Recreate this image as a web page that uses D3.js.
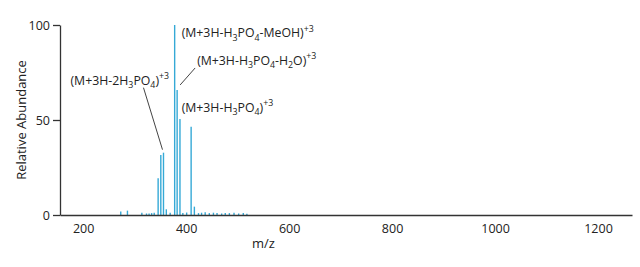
<!DOCTYPE html>
<html>
<head>
<meta charset="utf-8">
<script src="https://cdn.jsdelivr.net/npm/d3@7"></script>
<style>
  html, body { margin: 0; padding: 0; background: #fff; }
  text { font-family: "Open Sans", "Noto Sans", sans-serif; fill: #222; }
</style>
</head>
<body>
<div id="chart"></div>
<script>
// peak list
const mzValues = [273, 286, 314, 323, 328, 333, 338, 345.6, 350.8, 356, 361.5, 369,
  377.7, 382.5, 388, 393.6, 401, 409.7, 416, 424, 430, 437, 445, 453, 460, 469,
  476, 484, 493, 502, 511, 518];
const abundance = [1.8, 2.3, 1.2, 0.8, 0.8, 1, 1.2, 19.3, 31.6, 32.8, 3, 1.2,
  100, 65.8, 50.5, 1, 1.3, 46.5, 4.4, 1, 1.2, 1.5, 1, 1.2, 1, 0.8, 1, 1, 1.2, 0.8, 1, 0.6];
const xTicks = [200, 400, 600, 800, 1000, 1200];
const yTicks = [0, 50, 100];
const labelPeaks = [377.7, 382.5, 409.7, 356];
const labelTexts = ["(M+3H-H3PO4-MeOH)+3", "(M+3H-H3PO4-H2O)+3", "(M+3H-H3PO4)+3", "(M+3H-2H3PO4)+3"];

const fullWidth = 640, fullHeight = 267;
const margin = { top: 25, right: 8, bottom: 52, left: 60 };
const width = fullWidth - margin.left - margin.right;
const height = fullHeight - margin.top - margin.bottom;

const svg = d3.select('#chart')
  .append('svg')
  .attr('width', fullWidth)
  .attr('height', fullHeight);

const g = svg.append('g')
  .attr('transform', `translate(${margin.left},${margin.top})`);

const x = d3.scaleLinear().domain([155, 1266]).range([0, width]);
const y = d3.scaleLinear().domain([0, 100]).range([height, 0]);

// peaks
g.selectAll('line.peak')
  .data(mzValues)
  .join('line')
  .attr('class', 'peak')
  .attr('x1', d => x(d)).attr('x2', d => x(d))
  .attr('y1', y(0))
  .attr('y2', (d, i) => y(abundance[i]))
  .attr('stroke', '#35a9d6')
  .attr('stroke-width', 1.4);

// axes
const xAxis = d3.axisBottom(x).tickValues(xTicks).tickFormat(d3.format('d'))
  .tickSize(0).tickPadding(9);
const gx = g.append('g')
  .attr('transform', `translate(0,${height})`)
  .call(xAxis);
gx.select('.domain').attr('stroke', '#333').attr('stroke-width', 1.3);
gx.selectAll('text').style('font-size', '12.5px').attr('fill', '#222');

const yAxis = d3.axisLeft(y).tickValues(yTicks).tickSize(7).tickSizeOuter(0).tickPadding(3);
const gy = g.append('g').call(yAxis);
gy.select('.domain').attr('stroke', '#333').attr('stroke-width', 1.3);
gy.selectAll('.tick line').attr('stroke', '#333').attr('stroke-width', 1.3);
gy.selectAll('text').style('font-size', '12.5px').attr('fill', '#222');

// axis titles
svg.append('text')
  .attr('x', x(550) + margin.left)
  .attr('y', 248)
  .attr('text-anchor', 'middle')
  .style('font-size', '13px')
  .text('m/z');

svg.append('text')
  .attr('transform', `translate(26,${margin.top + height / 2}) rotate(-90)`)
  .attr('text-anchor', 'middle')
  .style('font-size', '13px')
  .text('Relative Abundance');

// annotation text with chemical sub/superscripts
function addLabel(str, px, py) {
  const t = g.append('text').attr('x', px).attr('y', py).style('font-size', '12.3px');
  const cut = str.lastIndexOf(')') + 1;
  const body = str.slice(0, cut), sup = str.slice(cut);
  const parts = [];
  for (let i = 0; i < body.length; i++) {
    const c = body[i];
    const kind = (/\d/.test(c) && i > 0 && /[A-Za-z]/.test(body[i - 1])) ? 'sub' : 'base';
    const last = parts[parts.length - 1];
    if (last && last.kind === kind) last.text += c;
    else parts.push({ kind, text: c });
  }
  parts.push({ kind: 'sup', text: sup });
  const shift = { base: 0, sub: 3.5, sup: -5.5 };
  let cur = 0;
  parts.forEach(p => {
    const s = t.append('tspan').attr('dy', shift[p.kind] - cur).text(p.text);
    if (p.kind !== 'base') s.style('font-size', '8.8px');
    cur = shift[p.kind];
  });
}

const peakTop = mz => {
  const i = mzValues.indexOf(mz);
  return [x(mz), y(abundance[i])];
};

// label placement relative to the peak tops
const offsets = [[7, 12], [20, -25], [-9.5, -15], [-93, -68]];
labelPeaks.forEach((mz, i) => {
  const [px, py] = peakTop(mz);
  addLabel(labelTexts[i], px + offsets[i][0], py + offsets[i][1]);
});

// leader lines
const leaders = [[382.5, [3, -5], [18, -22]], [356, [-1, -3], [-20, -65]]];
leaders.forEach(([mz, a, b]) => {
  const [px, py] = peakTop(mz);
  g.append('line')
    .attr('x1', px + a[0]).attr('y1', py + a[1])
    .attr('x2', px + b[0]).attr('y2', py + b[1])
    .attr('stroke', '#444').attr('stroke-width', 1);
});
</script>
</body>
</html>
